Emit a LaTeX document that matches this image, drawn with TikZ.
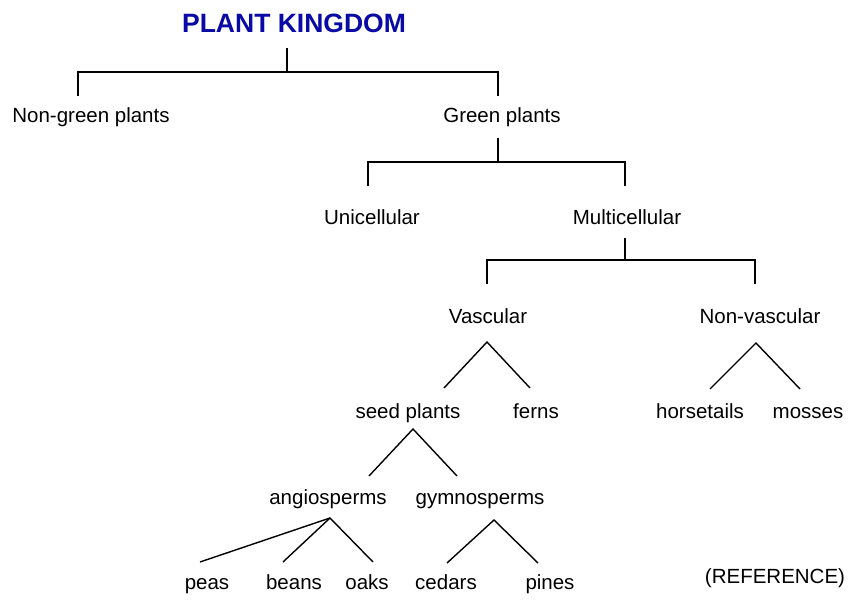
\documentclass[tikz,border=0pt]{standalone}
\usepackage{fontspec}
\setmainfont{Liberation Sans}
\usetikzlibrary{calc}
\definecolor{titleblue}{RGB}{10,10,165}
\begin{document}
\begin{tikzpicture}[x=1pt,y=-1pt,
  lbl/.style={inner sep=0pt,anchor=base,font=\fontsize{20.5}{24}\selectfont},
  ttl/.style={inner sep=0pt,anchor=base,font=\fontsize{26.5}{30}\selectfont\bfseries,text=titleblue},
  conn/.style={line width=1.4pt,black}]
\useasboundingbox[fill=white] (0,0) rectangle (849,601);
% nodes
\node[ttl] (pk) at (294,32.5) {PLANT KINGDOM};
\node[lbl] (ng) at (91,122.5) {Non-green plants};
\node[lbl] (gp) at (502,122.5) {Green plants};
\node[lbl] (uni) at (372,224.5) {Unicellular};
\node[lbl] (multi) at (627,224.5) {Multicellular};
\node[lbl] (vasc) at (488,323.5) {Vascular};
\node[lbl] (nonv) at (760,323.5) {Non-vascular};
\node[lbl] (seed) at (408,418.5) {seed plants};
\node[lbl] (ferns) at (536,418.5) {ferns};
\node[lbl] (horse) at (700,418.5) {horsetails};
\node[lbl] (mosses) at (808,418.5) {mosses};
\node[lbl] (angio) at (328,504.5) {angiosperms};
\node[lbl] (gymno) at (480,504.5) {gymnosperms};
\node[lbl] (peas) at (207,589) {peas};
\node[lbl] (beans) at (294,589) {beans};
\node[lbl] (oaks) at (367,589) {oaks};
\node[lbl] (cedars) at (446,589) {cedars};
\node[lbl] (pines) at (550,589) {pines};
\node[lbl] (ref) at (775,583.5) {(REFERENCE)};
% level 1
\draw[conn] ($(pk.base)+(-7,15.5)$) -- ($(pk.base)+(-7,39.5)$);
\draw[conn] ($(ng.base)+(-13,-26.5)$) |- ($(gp.base)+(-4,-50.5)$) -- ($(gp.base)+(-4,-26.5)$);
% level 2
\draw[conn] ($(gp.base)+(-4,15.5)$) -- ($(gp.base)+(-4,39.5)$);
\draw[conn] ($(uni.base)+(-4,-38.5)$) |- ($(multi.base)+(-2,-62.5)$) -- ($(multi.base)+(-2,-38.5)$);
% level 3
\draw[conn] ($(multi.base)+(-2,13.5)$) -- ($(multi.base)+(-2,35.5)$);
\draw[conn] ($(vasc.base)+(-1,-39.5)$) |- ($(nonv.base)+(-5,-63.5)$) -- ($(nonv.base)+(-5,-39.5)$);
% triangles
\draw[conn] ($(seed.base)+(36,-30.5)$) -- ($(vasc.base)+(-1,18.5)$) -- ($(ferns.base)+(-6,-30.5)$);
\draw[conn] ($(horse.base)+(10,-29.5)$) -- ($(nonv.base)+(-4,19.5)$) -- ($(mosses.base)+(-8,-29.5)$);
\draw[conn] ($(angio.base)+(41,-28.5)$) -- ($(seed.base)+(5,10.5)$) -- ($(gymno.base)+(-23,-28.5)$);
\draw[conn] ($(peas.base)+(-7,-27)$) -- ($(angio.base)+(2,13.5)$);
\draw[conn] ($(beans.base)+(-11,-27)$) -- ($(angio.base)+(2,13.5)$) -- ($(oaks.base)+(6,-27)$);
\draw[conn] ($(cedars.base)+(1,-26)$) -- ($(gymno.base)+(14,15.5)$) -- ($(pines.base)+(-12,-26)$);
\end{tikzpicture}
\end{document}
